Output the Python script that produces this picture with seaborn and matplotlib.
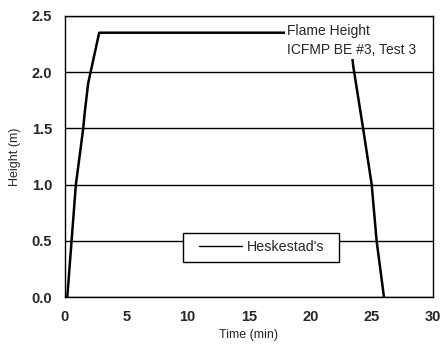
import matplotlib
matplotlib.use("Agg")
import matplotlib.pyplot as plt
from matplotlib.patches import Rectangle
import seaborn as sns
import pandas as pd

# Data
time_min = [0.2, 0.55, 0.9, 1.5, 1.6, 1.9, 2.2, 2.8, 23.2, 23.5, 24.3, 25.0, 25.4, 26.0]
height_m = [0.0, 0.5, 1.0, 1.5, 1.62, 1.9, 2.05, 2.35, 2.35, 2.05, 1.5, 1.0, 0.5, 0.0]
series_name = "Heskestad's"
x_ticks = [0, 5, 10, 15, 20, 25, 30]
y_ticks = [0.0, 0.5, 1.0, 1.5, 2.0, 2.5]

df = pd.DataFrame({"Time (min)": time_min, "Height (m)": height_m, "series": series_name})

sns.set_style("white")
plt.rcParams['font.family'] = ['Liberation Sans', 'DejaVu Sans']

fig = plt.figure(figsize=(4.41, 3.52), dpi=100)
ax = fig.add_axes([0.147, 0.156, 0.835, 0.799])

for yv in y_ticks:
    ax.axhline(yv, color='black', lw=1.0, zorder=1)

sns.lineplot(data=df, x="Time (min)", y="Height (m)", hue="series",
             palette=['black'], linewidth=1.8, sort=False, estimator=None,
             ax=ax, zorder=3)

ax.set_xlim(0, 30)
ax.set_ylim(0, 2.5)
ax.set_xticks(x_ticks)
ax.set_yticks(y_ticks)
ax.set_xticklabels([str(v) for v in x_ticks], fontsize=10.5, fontweight='bold')
ax.set_yticklabels([f"{v:.1f}" for v in y_ticks], fontsize=10.5, fontweight='bold')
ax.tick_params(axis='x', direction='out', length=3, width=1, color='black', pad=6)
ax.tick_params(axis='y', direction='out', length=3, width=1, color='black', pad=6)
ax.set_xlabel("Time (min)", fontsize=9, labelpad=4)
ax.set_ylabel("Height (m)", fontsize=9, labelpad=8)

for s in ax.spines.values():
    s.set_visible(True)
    s.set_color('black')
    s.set_linewidth(1.0)

ax.text(18.1, 2.43, "Flame Height\nICFMP BE #3, Test 3", fontsize=10,
        ha='left', va='top', linespacing=1.5, zorder=5,
        bbox=dict(facecolor='white', edgecolor='none', pad=1.5))

# legend box (frame drawn separately to match the wide Excel-style box)
ax.add_patch(Rectangle((0.321, 0.125), 0.424, 0.103, transform=ax.transAxes,
                       facecolor='white', edgecolor='black', lw=1.0, zorder=5))
leg = ax.legend(loc='center', bbox_to_anchor=(0.535, 0.1765), frameon=False,
                fontsize=10.3, handlelength=3.0, borderpad=0.3, fancybox=False,
                handletextpad=0.3, borderaxespad=0, title=None)
leg.set_zorder(6)
for h in leg.get_lines():
    h.set_linewidth(1.0)

fig.savefig("out.png", dpi=100)
